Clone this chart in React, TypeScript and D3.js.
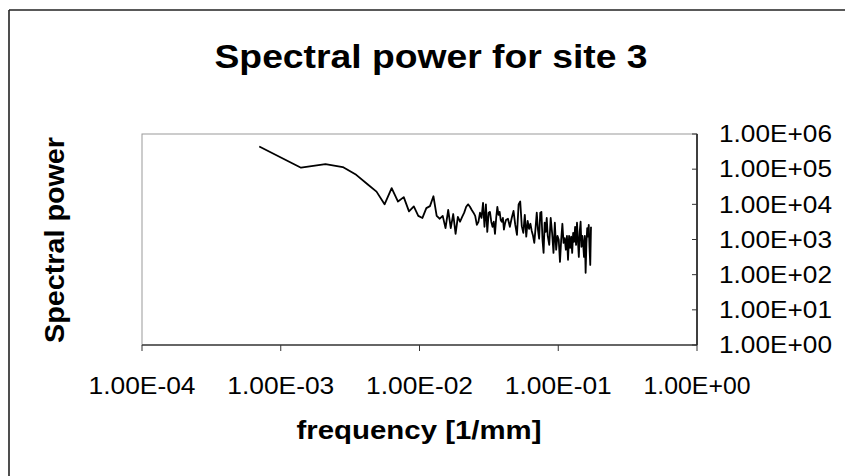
import React from "react";
import * as d3 from "d3";

const frequency = [
  0.0007, 0.0014, 0.0021, 0.0028, 0.0035, 0.0042, 0.0049, 0.0056, 0.0063, 0.007,
  0.0077, 0.0084, 0.0091, 0.0098, 0.0105, 0.0112, 0.0119, 0.0126, 0.0133, 0.014,
  0.0147, 0.0154, 0.0161, 0.0168, 0.0175, 0.0182, 0.0189, 0.0196, 0.0203, 0.021,
  0.0217, 0.0224, 0.0231, 0.0238, 0.0245, 0.0252, 0.0259, 0.0266, 0.0273, 0.028,
  0.0287, 0.0294, 0.0301, 0.0308, 0.0315, 0.0322, 0.0329, 0.0336, 0.0343, 0.035,
  0.0357, 0.0364, 0.0371, 0.0378, 0.0385, 0.0392, 0.0399, 0.0406, 0.0413, 0.042,
  0.0434, 0.0448, 0.0462, 0.0476, 0.049, 0.0504, 0.0518, 0.0532, 0.0546, 0.056,
  0.0574, 0.0588, 0.0602, 0.0616, 0.063, 0.0644, 0.0658, 0.0672, 0.0686, 0.07,
  0.0714, 0.0728, 0.0742, 0.0756, 0.077, 0.0784, 0.0798, 0.0812, 0.0826, 0.084,
  0.0861, 0.0882, 0.0903, 0.0924, 0.0945, 0.0966, 0.0987, 0.1008, 0.1029, 0.105,
  0.1071, 0.1092, 0.1113, 0.1134, 0.1155, 0.1176, 0.1197, 0.1218, 0.1239, 0.126,
  0.1281, 0.1302, 0.1323, 0.1344, 0.1365, 0.1386, 0.1407, 0.1428, 0.1449, 0.147,
  0.1491, 0.1512, 0.1533, 0.1554, 0.1575, 0.1596, 0.1617, 0.1638, 0.1659, 0.168,
  0.1701, 0.1722,
];

const power = [
  4.4e5, 1.1e5, 1.4e5, 1.15e5, 6.9e4, 3.8e4, 2.3e4, 1.0e4, 2.9e4, 1.2e4,
  1.6e4, 6.3e3, 8.7e3, 4.7e3, 4.1e3, 7.8e3, 8.9e3, 1.7e4, 4.7e3, 3.9e3,
  4.7e3, 2.1e3, 6.9e3, 2.1e3, 5.3e3, 1.45e3, 4.4e3, 3.2e3, 4.4e3, 5.8e3,
  8.5e3, 1.0e4, 8.5e3, 6.9e3, 5.8e3, 4.7e3, 2.6e3, 3.2e3, 5.8e3, 4.1e3,
  1.1e4, 2.3e3, 1.0e4, 1.65e3, 5.8e3, 6.1e3, 3.2e3, 2.3e3, 3.2e3, 1.45e3,
  4.1e3, 8.5e3, 5.0e3, 6.1e3, 3.6e3, 3.2e3, 4.1e3, 1.9e3, 2.8e3, 3.6e3,
  3.9e3, 2.3e3, 4.1e3, 6.5e3, 2.6e3, 1.35e3, 1.0e4, 1.2e4, 2.4e3, 1.55e3,
  5.0e3, 1.2e3, 3.4e3, 2.0e3, 2.8e3, 1.75e3, 1.27e3, 800, 2.1e3, 5.8e3,
  1.9e3, 1.05e3, 5.8e3, 6.1e3, 980, 415, 3.0e3, 1.65e3, 4.1e3, 1.27e3,
  700, 4.1e3, 1.55e3, 415, 3.0e3, 510, 1.27e3, 980, 230, 980,
  2.8e3, 800, 1.1e3, 510, 1.27e3, 265, 1.27e3, 580, 1.2e3, 415,
  1.55e3, 860, 2.3e3, 700, 3.0e3, 920, 320, 1.65e3, 3.2e3, 620,
  1.27e3, 750, 320, 1.27e3, 113, 750, 2.1e3, 1.2e3, 2.6e3, 580,
  190, 2.3e3,
];

const yTicks = [1, 10, 100, 1e3, 1e4, 1e5, 1e6];
const yTickLabels = ["1.00E+00", "1.00E+01", "1.00E+02", "1.00E+03", "1.00E+04", "1.00E+05", "1.00E+06"];
const xTicks = [1e-4, 1e-3, 1e-2, 1e-1, 1];
const xTickLabels = ["1.00E-04", "1.00E-03", "1.00E-02", "1.00E-01", "1.00E+00"];

const titleText = "Spectral power for site 3";
const yTitle = "Spectral power";
const xTitle = "frequency [1/mm]";

const FONT = "'Liberation Sans', Arial, sans-serif";

export default function App() {
  const W = 845;
  const H = 476;
  const left = 142, right = 697, top = 134, bottom = 345;
  const x = d3.scaleLog().domain([1e-4, 1]).range([left, right]);
  const y = d3.scaleLog().domain([1, 1e6]).range([bottom, top]);
  const line = d3
    .line<number>()
    .x((_, i) => x(frequency[i]))
    .y((d) => y(d));
  const path = line(power) || "";

  return (
    <svg
      width={W}
      height={H}
      viewBox={`0 0 ${W} ${H}`}
      style={{ position: "absolute", left: 0, top: 0, background: "#fff" }}
      fontFamily={FONT}
    >
      <rect x={0} y={0} width={W} height={H} fill="#fff" />
      {/* outer chart border */}
      <line x1={9} y1={10} x2={W} y2={10} stroke="#222" strokeWidth={1.6} />
      <line x1={9} y1={10} x2={9} y2={H} stroke="#222" strokeWidth={1.6} />

      {/* title */}
      <text x={431} y={68} textAnchor="middle" fontSize={33} fontWeight="bold" fill="#000"
        textLength={433} lengthAdjust="spacingAndGlyphs">
        {titleText}
      </text>

      {/* plot area frame */}
      <rect x={left} y={top} width={right - left} height={bottom - top} fill="none" stroke="#999" strokeWidth={1} />
      <line x1={left} y1={bottom} x2={right} y2={bottom} stroke="#444" strokeWidth={1.5} />
      <line x1={right} y1={top} x2={right} y2={bottom} stroke="#111" strokeWidth={1.5} />

      {/* y ticks (right axis, inside) */}
      {yTicks.map((t, i) => (
        <g key={"y" + i}>
          <line x1={right - 5} x2={right} y1={y(t)} y2={y(t)} stroke="#333" strokeWidth={1} />
          <text x={719} y={y(t)} dy="0.36em" fontSize={23} fill="#000"
            textLength={113} lengthAdjust="spacingAndGlyphs">
            {yTickLabels[i]}
          </text>
        </g>
      ))}

      {/* x ticks (outside, down) */}
      {xTicks.map((t, i) => (
        <g key={"x" + i}>
          <line x1={x(t)} x2={x(t)} y1={bottom} y2={bottom + 6} stroke="#333" strokeWidth={1} />
          <text x={x(t)} y={394} textAnchor="middle" fontSize={23} fill="#000"
            textLength={107} lengthAdjust="spacingAndGlyphs">
            {xTickLabels[i]}
          </text>
        </g>
      ))}

      {/* axis titles */}
      <text x={419} y={439} textAnchor="middle" fontSize={25} fontWeight="bold" fill="#000"
        textLength={245} lengthAdjust="spacingAndGlyphs">
        {xTitle}
      </text>
      <text transform="translate(64,240) rotate(-90)" textAnchor="middle" fontSize={27} fontWeight="bold" fill="#000"
        textLength={206} lengthAdjust="spacingAndGlyphs">
        {yTitle}
      </text>

      {/* data line */}
      <path d={path} fill="none" stroke="#000" strokeWidth={1.8} strokeLinejoin="round" />
    </svg>
  );
}
